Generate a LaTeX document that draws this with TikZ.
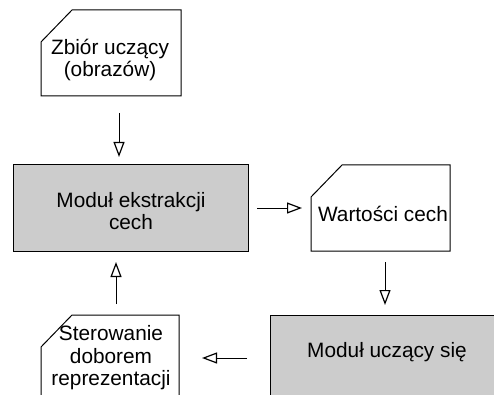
\documentclass[tikz,border=0pt]{standalone}
\usepackage{fontspec}
\setmainfont{Liberation Sans}
\usetikzlibrary{arrows.meta}
\definecolor{modgray}{HTML}{CCCCCC}
\begin{document}
\begin{tikzpicture}[x=1pt,y=-1pt,
  every node/.style={inner sep=0pt,outer sep=0pt},
  box/.style={draw=black,line width=1pt,minimum height=86pt},
  module/.style={box,fill=modgray},
  docshape/.style={minimum height=86pt},
  lbl/.style={align=center,font=\fontsize{20.8}{22.5}\selectfont},
  flow/.style={draw=black,line width=1pt,-{Triangle[open,length=15pt,width=11pt,line width=1.2pt]}}]
  \useasboundingbox (0,0) rectangle (494,395);
  \clip (0,0) rectangle (494,395);

  % shape nodes
  \node[docshape,minimum width=140pt] (zb) at (111,53) {};
  \node[module,minimum width=235pt] (ext) at (130.5,208) {};
  \node[docshape,minimum width=139pt] (wc) at (380.5,208) {};
  \node[module,minimum width=224pt] (mu) at (382,358) {};
  \node[docshape,minimum width=138pt] (st) at (110,358) {};

  % document outlines with a cut top-left corner
  \foreach \n in {zb,wc,st}{
    \draw[line width=1pt]
      ([yshift=-32pt]\n.north west) -- ([xshift=31pt]\n.north west)
      -- (\n.north east) -- (\n.south east) -- (\n.south west) -- cycle;
  }

  % labels
  \node[lbl] (zbt) at (110,60) {Zbiór uczący\\(obrazów)};
  \node[lbl] (extt) at (131,211) {Moduł ekstrakcji\\cech};
  \node[lbl] (wct) at (383,214) {Wartości cech};
  \node[lbl] (mut) at (387,352) {Moduł uczący się};
  \node[lbl] (stt) at (111,358) {Sterowanie\\doborem\\reprezentacji};

  % connectors
  \draw[flow] ([xshift=8pt,yshift=-17pt]zb.south) -- ([xshift=-11.5pt,yshift=8pt]ext.north);
  \draw[flow] ([xshift=9pt]ext.east) -- ([xshift=-9pt]wc.west);
  \draw[flow] ([xshift=4.5pt,yshift=-11pt]wc.south) -- ([xshift=3pt,yshift=10pt]mu.north);
  \draw[flow] ([xshift=-23pt]mu.west) -- ([xshift=23pt]st.east);
  \draw[flow] ([xshift=6pt,yshift=11pt]st.north) -- ([xshift=-14.5pt,yshift=-11pt]ext.south);
\end{tikzpicture}
\end{document}
